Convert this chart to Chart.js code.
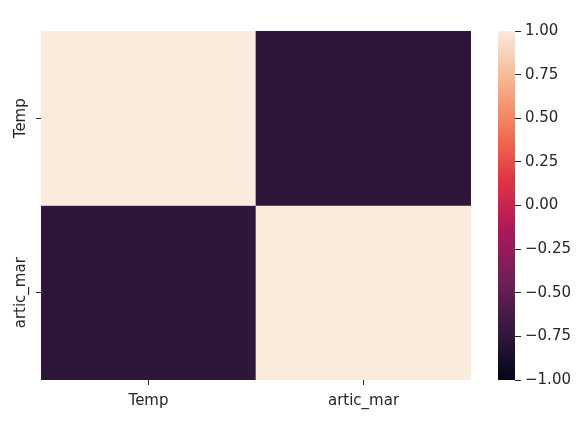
<!DOCTYPE html>
<html>
<head>
<meta charset="utf-8">
<script src="https://cdn.jsdelivr.net/npm/chart.js@4"></script>
<style>
  html, body { margin: 0; padding: 0; background: #ffffff; }
  #wrap { position: relative; width: 580px; height: 428px; }
  #heat { position: absolute; left: 0; top: 0; }
  #cbar { position: absolute; left: 480px; top: 0; }
</style>
</head>
<body>
<div id="wrap">
  <canvas id="heat" width="580" height="428"></canvas>
  <canvas id="cbar" width="100" height="428"></canvas>
</div>
<script>
// ── Data ────────────────────────────────────────────────────
const rowLabels  = ["Temp", "artic_mar"];
const colLabels  = ["Temp", "artic_mar"];
const rowTemp    = [1.00, -0.76];
const rowArtic   = [-0.76, 1.00];
const cbarTicks  = [-1, -0.75, -0.5, -0.25, 0, 0.25, 0.5, 0.75, 1];

const rows = [rowTemp, rowArtic];

// seaborn "rocket" colormap, approximated with a few stops
const ROCKET = [
  [0 / 7, "#03051a"],
  [1 / 7, "#35193e"],
  [2 / 7, "#701f57"],
  [3 / 7, "#ad1759"],
  [4 / 7, "#e13342"],
  [5 / 7, "#f37651"],
  [6 / 7, "#f6b48f"],
  [7 / 7, "#faebdd"]
];

const TEXT = "#262626";
const FONT = { family: "DejaVu Sans", size: 15 };

function hexToRgb(h) {
  return [1, 3, 5].map(i => parseInt(h.slice(i, i + 2), 16));
}

function rocket(v) {
  const t = Math.max(0, Math.min(1, (v + 1) / 2));
  for (let i = 1; i < ROCKET.length; i++) {
    if (t <= ROCKET[i][0]) {
      const [t0, c0] = ROCKET[i - 1];
      const [t1, c1] = ROCKET[i];
      const f = (t - t0) / (t1 - t0);
      const a = hexToRgb(c0), b = hexToRgb(c1);
      const c = a.map((x, k) => Math.round(x + (b[k] - x) * f));
      return `rgb(${c[0]},${c[1]},${c[2]})`;
    }
  }
  return ROCKET[ROCKET.length - 1][1];
}

const fmt = v => (v < 0 ? "\u2212" : "") + Math.abs(v).toFixed(2);

// ── Row labels (rotated, like matplotlib) ───────────────────
const rowLabelPlugin = {
  id: "rowLabels",
  afterDraw(chart) {
    const ys = chart.scales.y;
    const c = chart.ctx;
    c.save();
    c.fillStyle = TEXT;
    c.font = `${FONT.size}px ${FONT.family}`;
    c.textAlign = "center";
    c.textBaseline = "middle";
    rowLabels.forEach((lab, r) => {
      const y = ys.getPixelForValue(r + 0.5);
      c.save();
      c.translate(ys.right - 20, y);
      c.rotate(-Math.PI / 2);
      c.fillText(lab, 0, 0);
      c.restore();
    });
    c.restore();
  }
};

// ── Heatmap ─────────────────────────────────────────────────
new Chart(document.getElementById("heat"), {
  type: "bar",
  data: {
    labels: colLabels,
    datasets: rows.map((vals, r) => ({
      label: rowLabels[r],
      data: vals.map(() => [r, r + 1]),
      backgroundColor: vals.map(rocket),
      borderWidth: 0,
      barPercentage: 1,
      categoryPercentage: 1,
      grouped: false
    }))
  },
  options: {
    responsive: false,
    animation: false,
    events: [],
    layout: { padding: { top: 31, right: 109, left: 0, bottom: 0 } },
    plugins: { legend: { display: false }, tooltip: { enabled: false } },
    scales: {
      x: {
        offset: true,
        border: { display: false },
        grid: { drawOnChartArea: false, offset: false, tickLength: 5, color: TEXT },
        ticks: { color: TEXT, font: FONT, padding: 7, maxRotation: 0 },
        afterFit: s => { s.height = 48; }
      },
      y: {
        min: 0, max: 2, reverse: true,
        border: { display: false },
        grid: { drawOnChartArea: false, tickLength: 5, color: TEXT },
        ticks: { display: false },
        afterBuildTicks: s => { s.ticks = rowLabels.map((_, r) => ({ value: r + 0.5 })); },
        afterFit: s => { s.width = 41; }
      }
    }
  },
  plugins: [rowLabelPlugin]
});

// ── Colorbar ────────────────────────────────────────────────
new Chart(document.getElementById("cbar"), {
  type: "bar",
  data: {
    labels: ["cbar"],
    datasets: [{
      data: [[cbarTicks[0], cbarTicks[cbarTicks.length - 1]]],
      backgroundColor: ctx => {
        const area = ctx.chart.chartArea;
        if (!area) return "#000";
        const g = ctx.chart.ctx.createLinearGradient(0, area.bottom, 0, area.top);
        for (let i = 0; i <= 100; i++) g.addColorStop(i / 100, rocket(-1 + 2 * i / 100));
        return g;
      },
      borderWidth: 0,
      barPercentage: 1,
      categoryPercentage: 1
    }]
  },
  options: {
    responsive: false,
    animation: false,
    events: [],
    layout: { padding: { top: 31, right: 0, left: 18, bottom: 48 } },
    plugins: { legend: { display: false }, tooltip: { enabled: false } },
    scales: {
      x: { display: false },
      y: {
        position: "right",
        min: -1, max: 1,
        border: { display: false },
        grid: { drawOnChartArea: false, tickLength: 6, color: TEXT },
        ticks: { color: TEXT, font: FONT, padding: 4, callback: v => fmt(v) },
        afterBuildTicks: s => { s.ticks = cbarTicks.map(v => ({ value: v })); },
        afterFit: s => { s.width = 65; }
      }
    }
  }
});
</script>
</body>
</html>
